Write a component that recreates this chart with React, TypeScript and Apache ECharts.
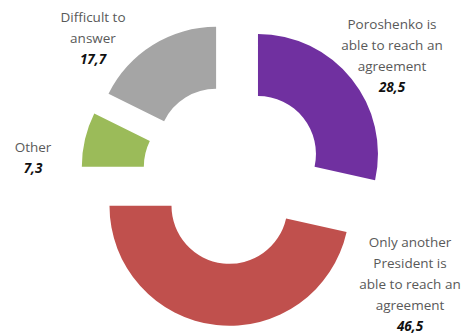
import React, { useEffect, useRef } from "react";
import * as echarts from "echarts";

const categories = [
  "Poroshenko is\nable to reach an\nagreement",
  "Only another\nPresident is\nable to reach an\nagreement",
  "Other",
  "Difficult to\nanswer",
];
const values = [28.5, 46.5, 7.3, 17.7];
const colors = ["#7030A0", "#C0504D", "#9BBB59", "#A5A5A5"];
const labelPos: [number, number][] = [
  [392, 55],
  [410, 284],
  [33, 157],
  [93, 38],
];

const fmt = (v: number) => String(v).replace(".", ",");

export default function App() {
  const ref = useRef<HTMLDivElement>(null);
  useEffect(() => {
    if (!ref.current) return;
    const chart = echarts.init(ref.current, undefined, { renderer: "svg" });
    const rich = {
      n: {
        fontFamily: "Open Sans",
        fontSize: 13.5,
        lineHeight: 21,
        fill: "#595959",
        align: "center",
      },
      v: {
        fontFamily: "Open Sans",
        fontSize: 13.5,
        lineHeight: 21,
        fill: "#111111",
        fontWeight: "bold",
        fontStyle: "italic",
        align: "center",
      },
    };
    chart.setOption({
      animation: false,
      backgroundColor: "#ffffff",
      series: [
        {
          type: "pie",
          center: [233, 174],
          radius: [58, 120],
          startAngle: 90,
          clockwise: true,
          selectedMode: "multiple",
          selectedOffset: 32,
          avoidLabelOverlap: false,
          emphasis: { disabled: true },
          labelLine: { show: false },
          label: { show: false },
          data: categories.map((c, i) => ({
            name: c,
            value: values[i],
            selected: true,
            itemStyle: { color: colors[i] },
          })),
        },
      ],
      graphic: categories.map((c, i) => ({
        type: "text",
        x: labelPos[i][0],
        y: labelPos[i][1],
        style: {
          text: c
            .split("\n")
            .map((line) => `{n|${line}}`)
            .join("\n") + `\n{v|${fmt(values[i])}}`,
          rich,
          textAlign: "center",
          textVerticalAlign: "middle",
        },
      })),
    });
    return () => chart.dispose();
  }, []);
  return (
    <div
      ref={ref}
      style={{ position: "fixed", left: 0, top: 0, width: 467, height: 336 }}
    />
  );
}
